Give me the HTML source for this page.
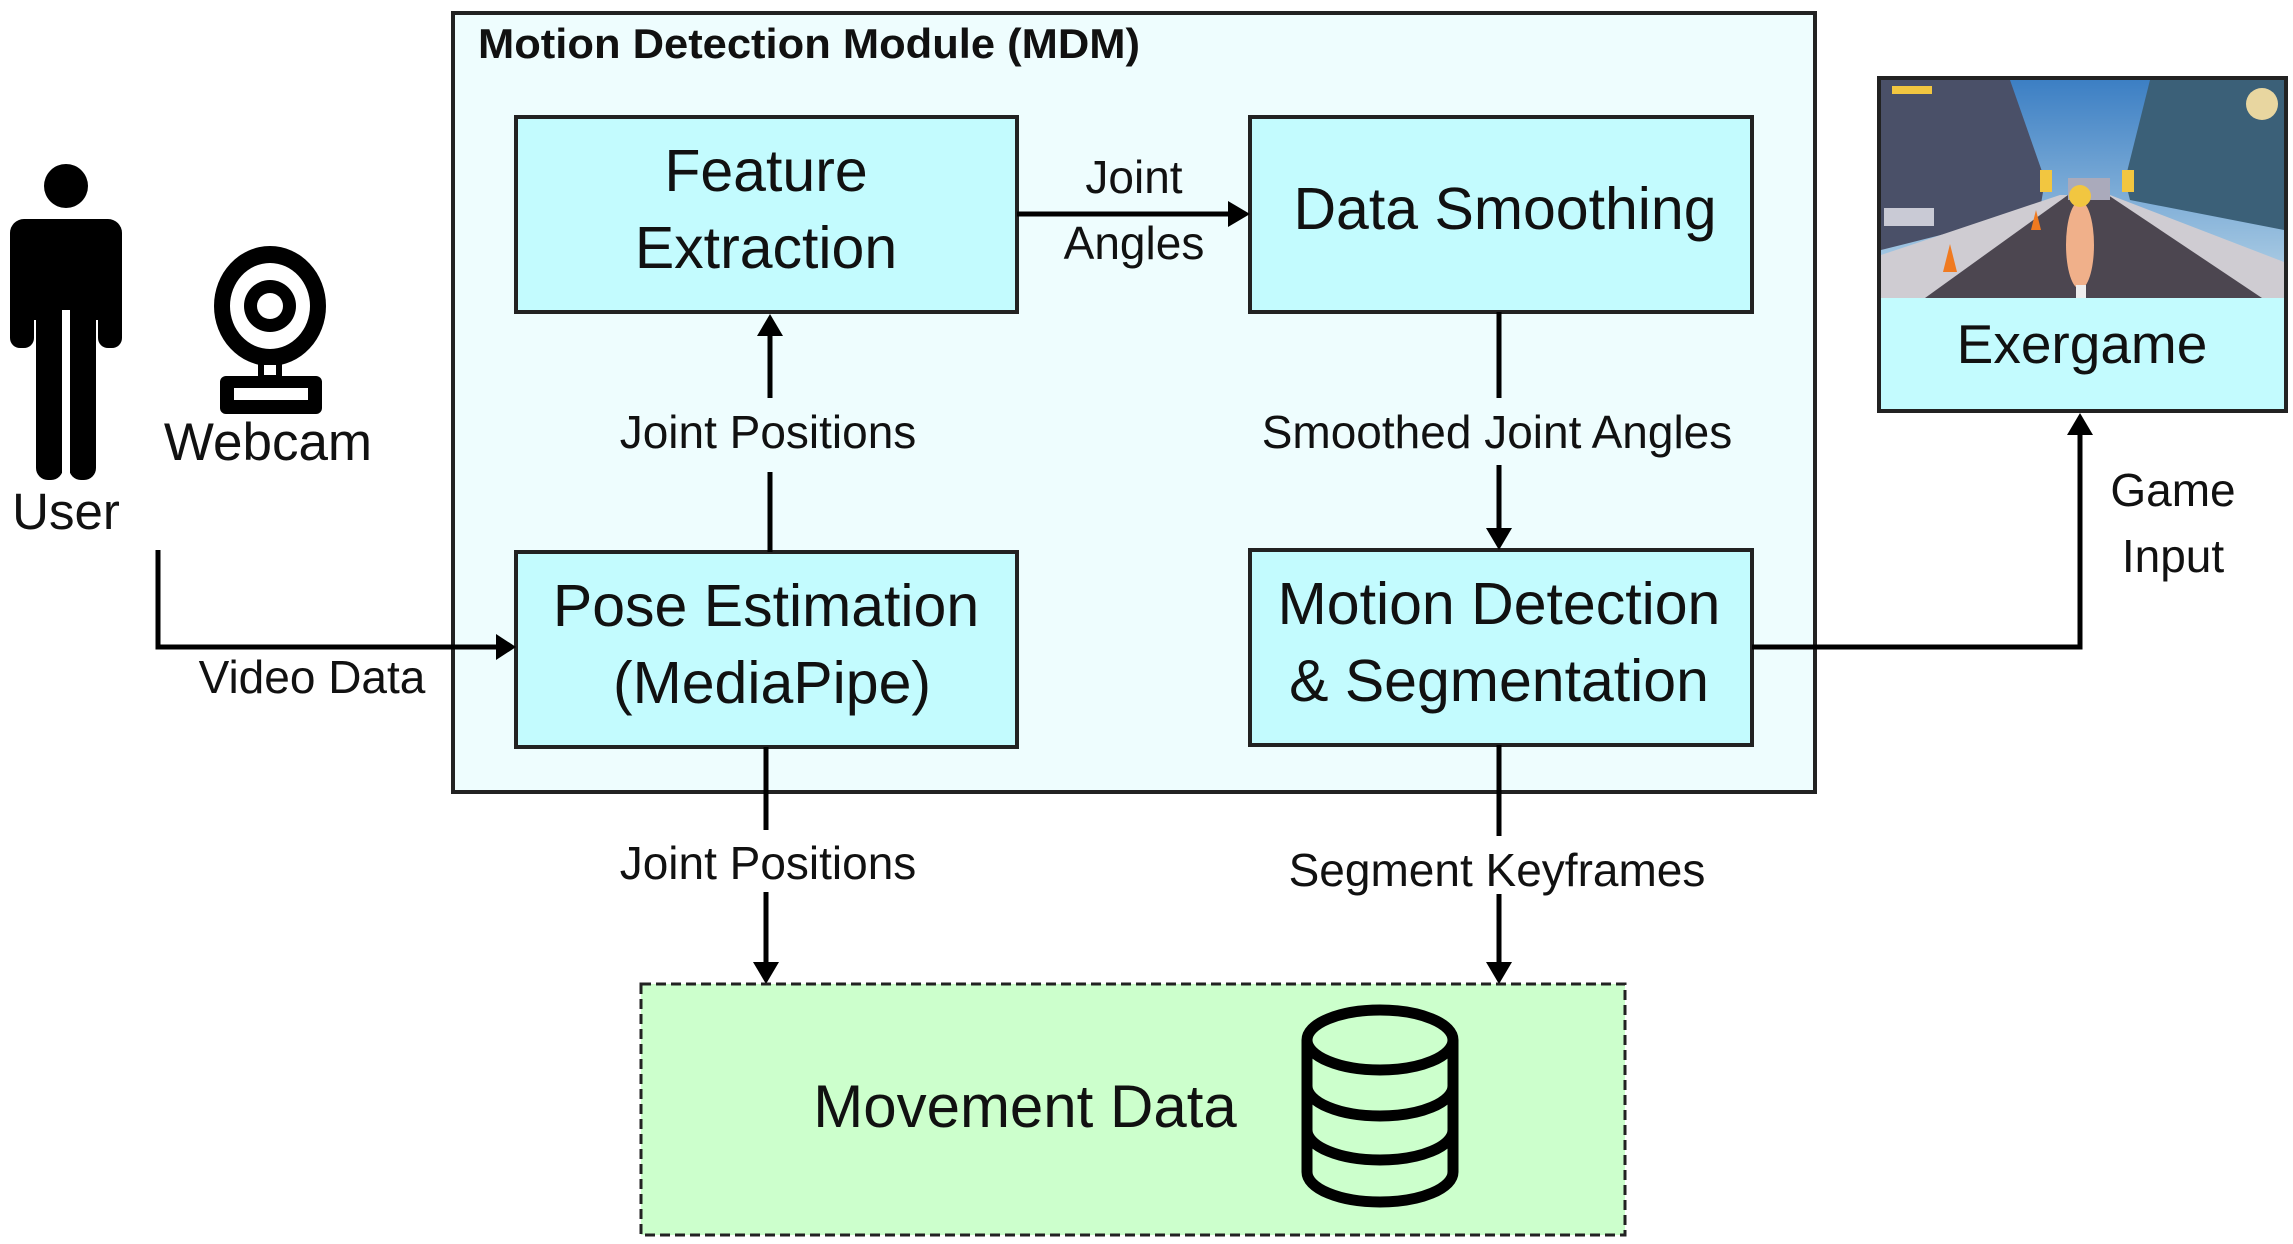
<!DOCTYPE html>
<html><head><meta charset="utf-8"><style>
html,body{margin:0;padding:0;background:#fff}
svg{display:block}
text{font-family:"Liberation Sans",sans-serif;fill:#111}
</style></head><body>
<svg width="2293" height="1244" viewBox="0 0 2293 1244" xmlns="http://www.w3.org/2000/svg">
<defs>
<linearGradient id="sky" x1="0" y1="0" x2="0" y2="1"><stop offset="0" stop-color="#3c7fc4"/><stop offset="1" stop-color="#b9d6e8"/></linearGradient>
</defs>
<rect x="453" y="13" width="1362" height="779" fill="#eefdfe" stroke="#222" stroke-width="4"/>
<text x="478" y="58" font-size="42" font-weight="bold" textLength="662" lengthAdjust="spacingAndGlyphs">Motion Detection Module (MDM)</text>

<g fill="#c3fbfe" stroke="#222" stroke-width="4">
<rect x="516" y="117" width="501" height="195"/>
<rect x="1250" y="117" width="502" height="195"/>
<rect x="516" y="552" width="501" height="195"/>
<rect x="1250" y="550" width="502" height="195"/>
</g>
<g font-size="59" text-anchor="middle">
<text x="766" y="191">Feature</text>
<text x="766" y="268">Extraction</text>
<text x="1505" y="229">Data Smoothing</text>
<text x="766" y="626">Pose Estimation</text>
<text x="772" y="703">(MediaPipe)</text>
<text x="1499" y="624">Motion Detection</text>
<text x="1499" y="701">&amp; Segmentation</text>
</g>

<g stroke="#000" stroke-width="5" fill="none">
<polyline points="158,550 158,647 500,647"/>
<line x1="770" y1="552" x2="770" y2="472"/>
<line x1="770" y1="398" x2="770" y2="332"/>
<line x1="1017" y1="214" x2="1232" y2="214"/>
<line x1="1499" y1="312" x2="1499" y2="398"/>
<line x1="1499" y1="465" x2="1499" y2="532"/>
<polyline points="1752,647 2080,647 2080,430"/>
<line x1="766" y1="747" x2="766" y2="830"/>
<line x1="766" y1="892" x2="766" y2="966"/>
<line x1="1499" y1="745" x2="1499" y2="836"/>
<line x1="1499" y1="894" x2="1499" y2="966"/>
</g>
<g fill="#000">
<polygon points="516,647 496,634 496,660"/>
<polygon points="770,314 757,336 783,336"/>
<polygon points="1250,214 1228,201 1228,227"/>
<polygon points="1499,550 1486,528 1512,528"/>
<polygon points="2080,413 2067,435 2093,435"/>
<polygon points="766,984 753,962 779,962"/>
<polygon points="1499,984 1486,962 1512,962"/>
</g>
<g font-size="46" text-anchor="middle">
<text x="312" y="693">Video Data</text>
<text x="768" y="448">Joint Positions</text>
<text x="1134" y="193">Joint</text>
<text x="1134" y="259">Angles</text>
<text x="1497" y="448">Smoothed Joint Angles</text>
<text x="2173" y="506">Game</text>
<text x="2173" y="572">Input</text>
<text x="768" y="879">Joint Positions</text>
<text x="1497" y="886">Segment Keyframes</text>
</g>

<g fill="#000">
<circle cx="66" cy="186" r="22"/>
<rect x="10" y="219" width="112" height="90" rx="14"/>
<rect x="10" y="250" width="24" height="98" rx="10"/>
<rect x="98" y="250" width="24" height="98" rx="10"/>
<rect x="34" y="290" width="64" height="30"/>
<rect x="36" y="300" width="27" height="180" rx="12"/>
<rect x="69" y="300" width="27" height="180" rx="12"/>
</g>
<rect x="62" y="310" width="8" height="170" fill="#fff"/>
<text x="66" y="529" font-size="51" text-anchor="middle">User</text>

<g>
<ellipse cx="270" cy="306" rx="56" ry="60" fill="#000"/>
<ellipse cx="270" cy="306" rx="40" ry="43" fill="#fff"/>
<circle cx="270" cy="306" r="26" fill="#000"/>
<circle cx="270" cy="306" r="13" fill="#fff"/>
<rect x="258" y="360" width="24" height="20" fill="#000"/>
<rect x="264" y="365" width="12" height="10" fill="#fff"/>
<rect x="220" y="376" width="102" height="38" rx="6" fill="#000"/>
<rect x="234" y="388" width="74" height="12" fill="#fff"/>
</g>
<text x="268" y="460" font-size="53" text-anchor="middle">Webcam</text>

<rect x="1879" y="78" width="407" height="333" fill="#c3fbfe" stroke="#222" stroke-width="4"/>
<g>
<rect x="1881" y="80" width="403" height="218" fill="url(#sky)"/>
<polygon points="1881,80 2010,80 2045,180 2040,210 1881,250" fill="#4a5068"/>
<polygon points="2284,80 2150,80 2125,180 2130,200 2284,230" fill="#3b6078"/>
<polygon points="1881,255 2060,195 2110,195 2284,262 2284,298 1881,298" fill="#cfccd2"/>
<polygon points="1925,298 2068,195 2108,195 2262,298" fill="#4c4650"/>
<rect x="2068" y="178" width="42" height="22" fill="#aab"/>
<rect x="2040" y="170" width="12" height="22" fill="#f2c640"/>
<rect x="2122" y="170" width="12" height="22" fill="#f2c640"/>
<ellipse cx="2080" cy="245" rx="14" ry="44" fill="#f0b08a"/>
<circle cx="2080" cy="196" r="11" fill="#f2c640"/>
<rect x="2076" y="285" width="10" height="13" fill="#eee"/>
<polygon points="1943,272 1950,244 1957,272" fill="#f07a20"/>
<polygon points="2031,230 2036,210 2041,230" fill="#f07a20"/>
<rect x="1884" y="208" width="50" height="18" fill="#e8e8f0" opacity="0.8"/>
<rect x="1892" y="86" width="40" height="8" fill="#f2c640"/>
<circle cx="2262" cy="104" r="16" fill="#e8d6a0"/>
</g>
<text x="2082" y="363" font-size="55" text-anchor="middle">Exergame</text>

<rect x="641" y="984" width="984" height="251" fill="#ccffcc" stroke="#222" stroke-width="3" stroke-dasharray="10,5"/>
<text x="1025" y="1127" font-size="60" text-anchor="middle">Movement Data</text>
<g fill="none" stroke="#000" stroke-width="11">
<path d="M1307,1040 L1307,1172 A73,30 0 0 0 1453,1172 L1453,1040"/>
<ellipse cx="1380" cy="1040" rx="73" ry="30"/>
<path d="M1307,1086 A73,30 0 0 0 1453,1086"/>
<path d="M1307,1130 A73,30 0 0 0 1453,1130"/>
</g>
</svg>
</body></html>
